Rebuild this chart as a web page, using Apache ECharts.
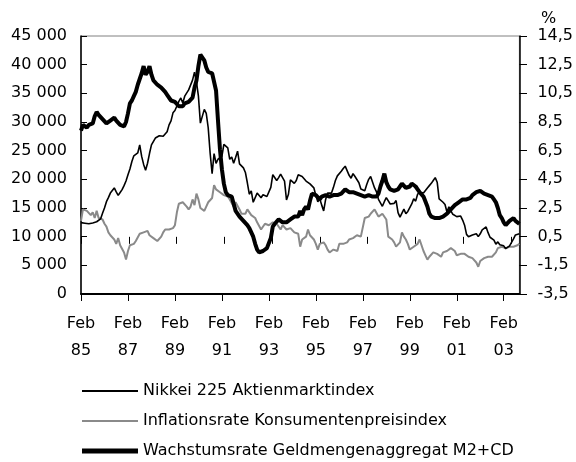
<!DOCTYPE html>
<html>
<head>
<meta charset="utf-8">
<script src="https://cdn.jsdelivr.net/npm/echarts@6/dist/echarts.min.js"></script>
<style>html,body{margin:0;padding:0;background:#fff}#c{width:576px;height:462px}</style>
</head>
<body>
<div id="c"></div>
<script>
// Monthly data, Feb 1985 .. Oct 2003
const startYear = 1985, startMonth = 2, nMonths = 225;
const seriesNames = ['Nikkei 225 Aktienmarktindex', 'Inflationsrate Konsumentenpreisindex', 'Wachstumsrate Geldmengenaggregat M2+CD'];
const leftTicks = [0, 5000, 10000, 15000, 20000, 25000, 30000, 35000, 40000, 45000];
const rightTicks = [-3.5, -1.5, 0.5, 2.5, 4.5, 6.5, 8.5, 10.5, 12.5, 14.5];

const nikkei = [
 12450,12500,12350,12600,12250,12100,12400,12550,12600,12800,13100,
 14100,15000,16100,16800,17600,17900,18500,17800,17200,17700,18200,18900,
 19700,20800,21800,23100,24100,24300,24600,26000,24000,22600,21600,22800,
 24500,26000,26300,27200,27500,27600,27700,27500,27900,28300,29500,30200,
 31600,32000,32800,33600,34200,33300,34500,34600,35600,35800,37300,38700,
 37000,34500,29800,29500,32200,31500,29000,24500,21000,24500,22800,23500,
 23200,24000,26100,26000,25500,23500,23900,22800,23800,24900,22700,22800,
 22000,21200,19400,17400,18000,16000,15900,17600,17400,16800,17300,17000,
 17000,17100,18600,20800,20500,19800,20300,20900,20300,19700,16400,17400,
 19900,19700,19300,19800,20800,20600,20500,20600,19700,19900,19200,19500,
 18500,17200,16100,16600,15500,14500,16500,17600,17800,17600,18600,19800,
 20600,20300,21400,21900,22300,22100,20700,20200,21000,20500,20800,19400,
 18300,18500,18000,19100,20000,20500,20200,18500,17800,16500,16600,15300,
 16100,16800,16500,15700,15600,15800,16300,14200,13400,13600,14800,14000,
 14400,14400,15700,16600,16200,17400,17800,17500,17600,17900,18500,18900,
 19300,19800,20300,19500,16600,16900,16000,15600,14300,15200,14500,13900,
 13900,13500,13200,13600,12900,12000,10400,10000,9800,10300,10500,10500,
 10000,10500,11200,11500,11700,10700,9900,9700,9400,8700,9100,8600,
 8400,8400,7900,7800,8400,9000,9600,10300,10200,10500
];
const inflation = [
 1.6,2.4,2.4,2.3,2.4,2.0,2.2,1.8,2.3,1.8,1.7,
 1.7,1.4,1.2,0.8,0.6,0.5,0.3,0.0,0.4,-0.1,-0.2,-0.6,
 -1.1,-0.5,-0.1,-0.1,0.0,0.2,0.3,0.7,0.7,0.8,0.7,0.9,
 0.6,0.5,0.4,0.3,0.2,0.2,0.5,0.8,1.0,1.1,1.0,1.1,
 1.1,1.3,2.2,2.8,2.9,2.9,2.8,2.6,2.4,2.6,3.1,2.7,
 3.5,3.1,2.5,2.5,2.3,2.6,2.9,3.0,3.2,4.1,3.8,3.9,
 3.6,3.6,3.4,3.3,3.3,3.1,3.0,2.6,2.9,2.8,2.4,2.1,
 2.1,2.1,2.4,2.3,2.0,1.9,1.8,1.5,1.6,1.0,1.1,1.4,
 1.4,1.3,1.2,1.5,1.5,1.4,1.3,1.0,1.3,1.2,1.0,1.1,
 1.1,1.0,0.8,0.8,0.7,-0.2,0.3,0.4,0.5,1.0,0.6,0.5,
 0.3,0.0,-0.4,0.0,0.1,0.1,-0.1,-0.4,-0.6,-0.5,-0.4,-0.3,
 -0.5,0.0,0.1,0.0,0.1,0.1,0.3,0.3,0.4,0.5,0.6,0.5,
 0.5,0.6,1.8,1.9,1.9,2.1,2.2,2.4,2.3,1.9,2.0,2.1,
 2.0,1.7,0.5,0.4,0.3,0.1,-0.2,-0.1,0.1,0.8,0.5,0.3,
 0.0,-0.4,-0.3,-0.2,-0.2,0.0,0.3,-0.1,-0.5,-0.8,-1.1,-0.9,
 -0.8,-0.6,-0.6,-0.7,-0.8,-0.9,-0.6,-0.7,-0.5,-0.4,-0.3,-0.3,
 -0.5,-0.8,-0.7,-0.7,-0.8,-0.7,-0.8,-0.9,-0.8,-1.0,-1.1,-1.3,
 -1.6,-1.2,-1.1,-1.0,-0.9,-0.9,-0.9,-0.9,-0.8,-0.6,-0.3,-0.4,
 -0.2,-0.2,-0.3,-0.3,-0.2,-0.3,-0.2,-0.1,-0.1,0.0
];
const m2cd = [
 7.9,8.3,8.2,8.1,8.3,8.2,8.4,8.9,9.2,9.0,8.9,
 8.7,8.6,8.4,8.5,8.6,8.5,8.8,8.6,8.5,8.3,8.2,8.2,
 8.5,9.1,9.8,10.0,10.3,10.6,11.1,11.5,11.9,12.4,11.8,12.0,
 12.4,11.8,11.4,11.3,11.1,11.0,10.9,10.9,10.6,10.4,10.3,10.0,
 10.0,9.9,9.9,9.6,9.6,9.6,9.8,9.9,9.9,9.8,10.2,10.9,
 11.4,12.4,13.2,13.1,12.8,12.3,12.0,11.9,11.9,11.8,10.7,8.6,
 6.6,5.2,4.2,3.6,3.4,3.3,3.3,2.8,2.3,2.2,1.9,1.8,
 1.6,1.5,1.3,1.1,0.8,0.5,0.0,-0.4,-0.6,-0.6,-0.5,-0.4,
 -0.3,-0.2,0.4,1.2,1.4,1.5,1.7,1.7,1.5,1.4,1.5,1.6,
 1.7,1.6,1.9,2.0,1.9,2.3,2.0,2.4,2.6,2.4,3.0,3.5,
 3.5,3.4,3.5,3.1,3.3,3.2,3.4,3.4,3.3,3.3,3.4,3.4,
 3.4,3.5,3.5,3.6,3.8,3.7,3.6,3.5,3.6,3.5,3.5,3.4,
 3.4,3.4,3.3,3.3,3.4,3.3,3.3,3.2,3.3,3.5,4.0,4.4,
 4.9,4.3,4.0,3.8,3.8,3.7,3.8,3.8,4.0,4.2,4.1,3.9,
 3.9,4.0,4.2,4.2,4.0,3.8,3.6,3.5,3.3,3.3,2.6,2.1,
 1.9,1.8,1.8,1.9,1.8,1.8,1.9,1.9,2.1,2.2,2.4,2.5,
 2.7,2.8,2.9,3.0,3.1,3.0,3.1,3.1,3.2,3.4,3.5,3.6,
 3.6,3.7,3.6,3.5,3.5,3.4,3.3,3.3,3.1,2.9,2.5,2.0,
 1.8,1.5,1.3,1.4,1.6,1.7,1.8,1.6,1.5,1.4
];

const categories = [];
for (let i = 0; i < nMonths; i++) {
  const t = (startMonth - 1) + i;
  const y = startYear + Math.floor(t / 12);
  const m = (t % 12) + 1;
  categories.push(y + '-' + (m < 10 ? '0' + m : m));
}
const FONT = 'DejaVu Sans';
const tickEvery = (idx) => idx % 24 === 0;
const gridRect = { left: 81, right: 49, top: 36, bottom: 168 };

const chart = echarts.init(document.getElementById('c'), null, { renderer: 'canvas' });
chart.setOption({
  animation: false,
  backgroundColor: '#fff',
  textStyle: { fontFamily: FONT },
  grid: [
    Object.assign({ show: true, borderColor: '#808080', borderWidth: 1 }, gridRect),
    Object.assign({}, gridRect)
  ],
  xAxis: [
    {
      type: 'category', gridIndex: 0, data: categories, boundaryGap: false,
      axisLine: { lineStyle: { color: '#000', width: 2 } },
      axisTick: { interval: tickEvery, length: 7, lineStyle: { color: '#000', width: 1 } },
      axisLabel: {
        interval: tickEvery, color: '#000', fontSize: 16, fontFamily: FONT,
        lineHeight: 27, margin: 16,
        formatter: (v) => 'Feb\n' + v.slice(2, 4)
      },
      splitLine: { show: false }
    },
    {
      type: 'category', gridIndex: 1, data: categories, boundaryGap: false,
      axisLine: { show: false },
      axisTick: { interval: tickEvery, inside: true, length: 7, lineStyle: { color: '#000', width: 1 } },
      axisLabel: { show: false }, splitLine: { show: false }
    }
  ],
  yAxis: [
    {
      type: 'value', gridIndex: 0, position: 'left',
      min: leftTicks[0], max: leftTicks[leftTicks.length - 1], interval: 5000,
      axisLine: { show: true, lineStyle: { color: '#000', width: 1.5 } },
      axisTick: { show: true, inside: true, length: 6, lineStyle: { color: '#000' } },
      axisLabel: {
        color: '#000', fontSize: 16, fontFamily: FONT, margin: 14,
        formatter: (v) => v === 0 ? '0' : String(v).replace(/\B(?=(\d{3})+(?!\d))/g, ' ')
      },
      splitLine: { show: false }
    },
    {
      type: 'value', gridIndex: 0, position: 'right',
      min: rightTicks[0], max: rightTicks[rightTicks.length - 1], interval: 2,
      axisLine: { show: true, lineStyle: { color: '#000', width: 1.5 } },
      axisTick: { show: true, length: 6, lineStyle: { color: '#000' } },
      axisLabel: {
        color: '#000', fontSize: 16, fontFamily: FONT, margin: 18,
        formatter: (v) => v.toFixed(1).replace('.', ',')
      },
      splitLine: { show: false }
    },
    {
      type: 'value', gridIndex: 1, position: 'right',
      min: rightTicks[0], max: rightTicks[rightTicks.length - 1], interval: 2,
      axisLine: { show: false },
      axisTick: { show: true, inside: true, length: 4, lineStyle: { color: '#000' } },
      axisLabel: { show: false }, splitLine: { show: false }
    }
  ],
  legend: {
    orient: 'vertical', left: 82, top: 383, padding: 0,
    itemWidth: 56, itemHeight: 14, itemGap: 14,
    symbolKeepAspect: true,
    textStyle: { color: '#000', fontSize: 16, fontFamily: FONT },
    data: [
      { name: seriesNames[0], icon: 'path://M0,0H56V2H0Z' },
      { name: seriesNames[1], icon: 'path://M0,0H56V2H0Z' },
      { name: seriesNames[2], icon: 'path://M0,0H56V5H0Z' }
    ]
  },
  graphic: [{ type: 'text', left: 541, top: 11, style: { text: '%', fontSize: 16, fontFamily: FONT, fill: '#000' } }],
  series: [
    { name: seriesNames[1], type: 'line', xAxisIndex: 0, yAxisIndex: 1, data: inflation, symbol: 'none', lineStyle: { color: '#8a8a8a', width: 2 }, itemStyle: { color: '#8a8a8a' }, z: 2 },
    { name: seriesNames[0], type: 'line', xAxisIndex: 0, yAxisIndex: 0, data: nikkei, symbol: 'none', lineStyle: { color: '#000', width: 1.6 }, itemStyle: { color: '#000' }, z: 3 },
    { name: seriesNames[2], type: 'line', xAxisIndex: 0, yAxisIndex: 1, data: m2cd, symbol: 'none', lineStyle: { color: '#000', width: 4 }, itemStyle: { color: '#000' }, z: 4 }
  ]
});
</script>
</body>
</html>
